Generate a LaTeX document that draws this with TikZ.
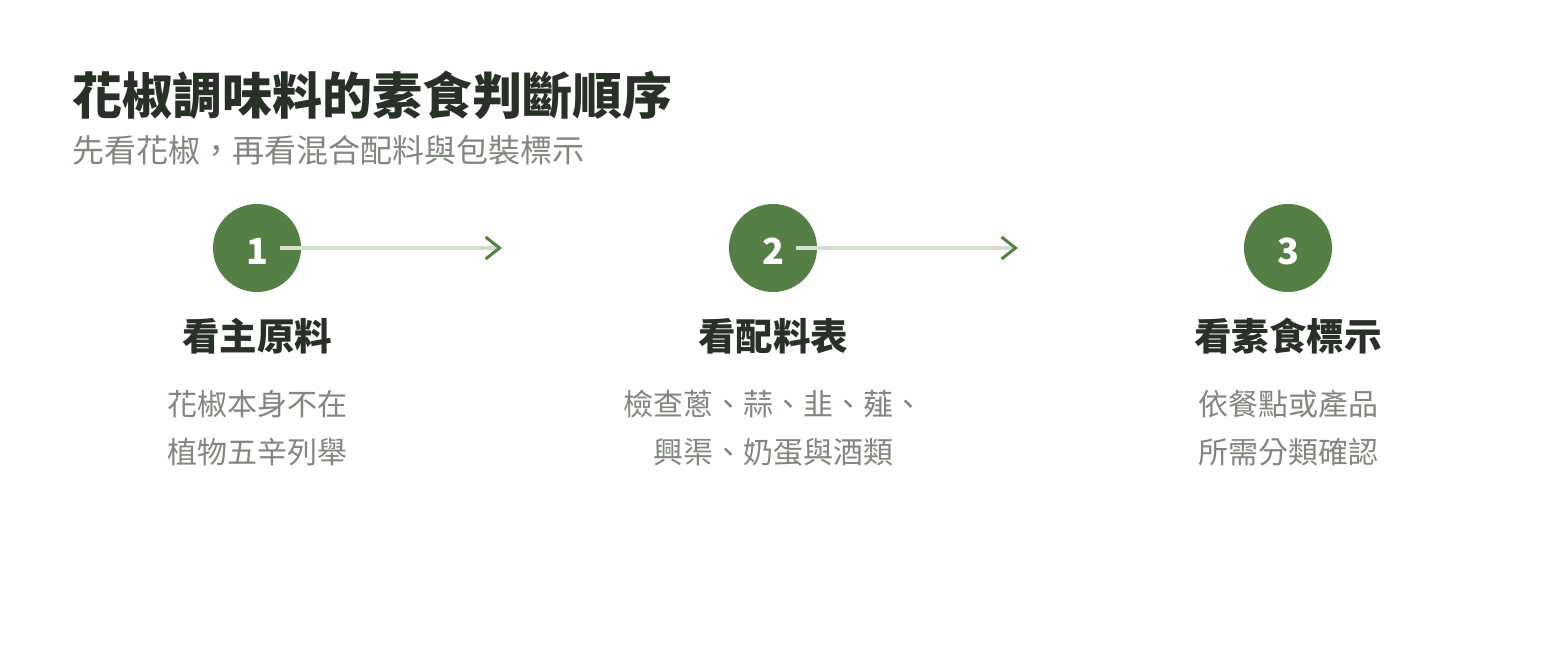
\documentclass[tikz,border=0pt]{standalone}
\usepackage{fontspec}
\setmainfont{Noto Sans CJK TC}
\usetikzlibrary{arrows.meta}
\definecolor{leaf}{HTML}{548046}
\definecolor{ink}{HTML}{283028}
\definecolor{mute}{HTML}{7F877E}
\definecolor{stem}{HTML}{D4E0CF}
\tikzset{
  num/.style={circle,fill=leaf,minimum size=88pt,inner sep=0pt,text height=32pt,text depth=0pt,text=white,font=\fontsize{36}{36}\selectfont\bfseries},
  head/.style={text=ink,font=\fontsize{37.5}{37.5}\selectfont\bfseries,inner sep=0pt},
  note/.style={text=mute,font=\fontsize{30}{48}\selectfont,align=center,inner sep=0pt},
  flow/.style={stem,line width=4pt,-{Straight Barb[color=leaf,length=14pt,width=22pt,line width=3pt]}}
}
\begin{document}
\begin{tikzpicture}[x=1pt,y=-1pt]
  \useasboundingbox[fill=white] (0,0) rectangle (1546,660);
  \node[anchor=west,inner sep=0pt,text=ink,font=\fontsize{50}{50}\selectfont\bfseries] (T) at (72,95) {花椒調味料的素食判斷順序};
  \node[anchor=west,inner sep=0pt,text=mute,font=\fontsize{32}{32}\selectfont] (S) at (72,150) {先看花椒，再看混合配料與包裝標示};
  % steps
  \node[num] (A) at (257,248) {1};
  \node[num] (B) at (773,248) {2};
  \node[num] (C) at (1288,248) {3};
  \path (A) +(23,0) coordinate (As) (B) +(23,0) coordinate (Bs);
  \coordinate (Ae) at (502,248);
  \coordinate (Be) at (1018,248);
  \draw[flow] (As) -- (Ae);
  \draw[flow] (Bs) -- (Be);
  \node[head] (HA) at (257,336) {看主原料};
  \node[head] (HB) at (773,336) {看配料表};
  \node[head] (HC) at (1288,336) {看素食標示};
  \node[note] (NA) at (257,428) {花椒本身不在\\植物五辛列舉};
  \node[note] (NB) at (773,428) {檢查蔥、蒜、韭、薤、\\興渠、奶蛋與酒類};
  \node[note] (NC) at (1288,428) {依餐點或產品\\所需分類確認};
\end{tikzpicture}
\end{document}
